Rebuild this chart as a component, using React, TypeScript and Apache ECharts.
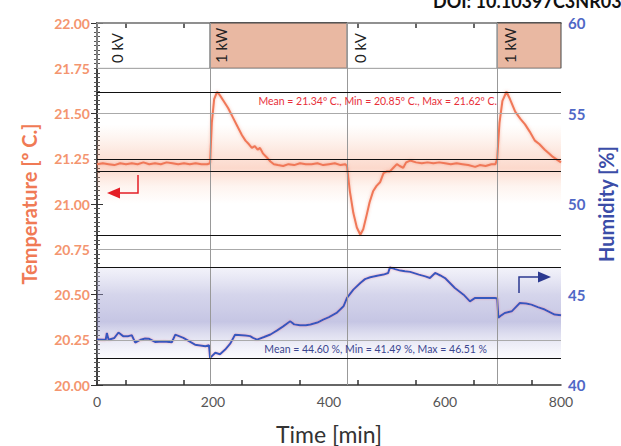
import React, { useEffect, useRef } from "react";
import * as echarts from "echarts";

// Temperature [ºC] vs time [min]
const tempTime = [0,10,20,30,40,50,60,70,80,90,100,110,120,130,140,150,160,170,180,190,195,198,202,207,212,218,226,234,242,250,256,262,267,272,277,281,286,292,299,305,312,321,330,340,350,360,370,380,390,400,410,420,428,431,436,442,448,454,459,465,470,476,482,488,494,500,505,511,517,522,528,533,540,550,560,570,580,590,600,610,620,630,640,652,660,670,680,687,690,694,699,706,712,721,730,738,746,755,763,772,779,786,793,800];
const tempValues = [21.22,21.225,21.22,21.215,21.225,21.22,21.225,21.22,21.23,21.22,21.225,21.22,21.23,21.225,21.22,21.225,21.22,21.225,21.22,21.22,21.225,21.45,21.58,21.62,21.6,21.57,21.53,21.48,21.43,21.38,21.35,21.33,21.31,21.32,21.3,21.31,21.28,21.26,21.235,21.22,21.215,21.21,21.22,21.215,21.225,21.22,21.22,21.225,21.215,21.22,21.225,21.215,21.22,21.21,21.07,20.95,20.87,20.83,20.86,20.94,21.01,21.07,21.1,21.12,21.17,21.18,21.18,21.2,21.22,21.21,21.2,21.23,21.24,21.23,21.225,21.23,21.225,21.23,21.225,21.22,21.225,21.22,21.215,21.205,21.215,21.21,21.22,21.22,21.25,21.45,21.57,21.62,21.58,21.51,21.47,21.44,21.4,21.35,21.33,21.3,21.28,21.26,21.245,21.23];

// Humidity [%] vs time [min]
const humTime = [0,15,17,20,30,37,45,54,60,66,75,83,90,100,115,129,135,149,160,169,187,193,195,204,212,221,230,238,256,264,269,276,288,299,310,321,333,340,350,360,368,380,390,400,413,425,431,442,454,462,471,485,494,502,505,514,523,531,540,555,566,574,583,592,600,617,632,643,652,669,686,690,692,697,703,715,729,740,749,760,772,789,800];
const humValues = [42.51,42.5,42.88,42.5,42.6,42.9,42.7,42.7,42.75,42.34,42.5,42.57,42.55,42.38,42.4,42.36,42.78,42.6,42.4,42.23,42.14,42.2,41.5,41.78,41.7,41.96,42.3,42.78,42.73,42.7,42.6,42.51,42.65,42.79,43.0,43.24,43.52,43.35,43.3,43.3,43.34,43.45,43.61,43.75,43.98,44.35,44.81,45.27,45.64,45.85,45.95,46.05,46.1,46.19,46.5,46.4,46.32,46.28,46.25,46.1,46.0,45.91,46.19,46.05,45.91,45.36,44.99,44.62,44.81,44.8,44.81,44.78,43.71,43.85,43.98,44.07,44.53,44.5,44.44,44.3,44.17,43.89,43.85];

const powerPeriods = [
  { start: 0, end: 195, label: "0 kV" },
  { start: 195, end: 431, label: "1 kW" },
  { start: 431, end: 690, label: "0 kV" },
  { start: 690, end: 800, label: "1 kW" },
];
const switchTimes = [195, 431, 690];
const tempGridValues = [21.75, 21.5, 21.25, 20.75, 20.25];
const tempBoxLines = [21.62, 21.253, 21.183, 20.83];
const humBoxLines = [46.51, 41.49];
const xTickLabels = [0, 200, 400, 600, 800];

const FONT = "Lato";

export default function App() {
  const ref = useRef<HTMLDivElement>(null);
  useEffect(() => {
    const chart = echarts.init(ref.current!, null, { renderer: "svg" });
    const xBase = {
      type: "value",
      min: 0,
      max: 800,
      interval: 100,
      axisLine: { show: true, lineStyle: { color: "#333", width: 1.5 } },
      axisTick: { show: false, inside: true },
      minorTick: { show: true, splitNumber: 2, length: 5, lineStyle: { color: "#333", width: 1.5 } },
      splitLine: { show: false },
    };
    const option: any = {
      animation: false,
      backgroundColor: "#fff",
      textStyle: { fontFamily: FONT },
      grid: { left: 97, right: 60, top: 23, bottom: 61, containLabel: false, outerBoundsMode: "none" },
      xAxis: [
        {
          ...xBase,
          position: "bottom",
          name: "Time [min]",
          nameLocation: "middle",
          nameGap: 37,
          nameTextStyle: { color: "#333", fontSize: 23, fontFamily: FONT },
          axisLabel: {
            color: "#555",
            fontSize: 14,
            margin: 9,
            formatter: (v: number) => (xTickLabels.includes(v) ? String(v) : ""),
          },
        },
        { ...xBase, position: "top", axisLabel: { show: false } },
      ],
      yAxis: [
        {
          type: "value",
          position: "left",
          min: 20,
          max: 22,
          interval: 0.25,
          name: "Temperature [º C.]",
          nameLocation: "middle",
          nameGap: 58,
          nameTextStyle: { color: "#F07A55", fontSize: 20, fontWeight: "bold", fontFamily: FONT },
          axisLine: { show: true, lineStyle: { color: "#333", width: 1.5 } },
          axisTick: { show: true, inside: true, length: 6, lineStyle: { color: "#333" } },
          minorTick: { show: true, splitNumber: 10, length: 3, lineStyle: { color: "#555" } },
          splitLine: { show: false },
          axisLabel: {
            color: "#F4956F",
            fontSize: 14,
            fontWeight: "bold",
            margin: 7,
            formatter: (v: number) => v.toFixed(2),
          },
        },
        {
          type: "value",
          position: "right",
          min: 40,
          max: 60,
          interval: 5,
          name: "Humidity [%]",
          nameLocation: "middle",
          nameGap: 34,
          nameTextStyle: { color: "#3B4DA8", fontSize: 20, fontWeight: "bold", fontFamily: FONT },
          axisLine: { show: true, lineStyle: { color: "#333", width: 1.5 } },
          axisTick: { show: true, inside: true, length: 6, lineStyle: { color: "#333" } },
          minorTick: { show: true, splitNumber: 20, length: 3, lineStyle: { color: "#555" } },
          splitLine: { show: false },
          axisLabel: { color: "#5068C6", fontSize: 15, fontWeight: "bold", margin: 7 },
        },
      ],
      series: [
        {
          name: "band",
          type: "line",
          xAxisIndex: 0,
          yAxisIndex: 0,
          data: [],
          silent: true,
          markArea: {
            silent: true,
            data: [
              [
                {
                  xAxis: 0,
                  yAxis: 21.44,
                  itemStyle: {
                    color: new echarts.graphic.LinearGradient(0, 0, 0, 1, [
                      { offset: 0, color: "rgba(248,170,130,0)" },
                      { offset: 0.35, color: "rgba(245,145,105,0.22)" },
                      { offset: 0.55, color: "rgba(245,135,95,0.32)" },
                      { offset: 0.78, color: "rgba(248,165,125,0.12)" },
                      { offset: 1, color: "rgba(248,170,130,0)" },
                    ]),
                  },
                },
                { xAxis: 800, yAxis: 21.0 },
              ],
              ...powerPeriods.map((p) => [
                {
                  xAxis: p.start,
                  yAxis: 21.75,
                  itemStyle: p.label === "1 kW"
                    ? { color: "#E9B8A2", borderColor: "#444", borderWidth: 1 }
                    : { color: "rgba(255,255,255,0)", borderColor: "#bbb", borderWidth: 1 },
                },
                { xAxis: p.end, yAxis: 22 },
              ]),
            ],
          },
          markLine: {
            silent: true,
            symbol: "none",
            label: { show: false },
            data: [
              ...tempGridValues.map((v) => ({ yAxis: v, lineStyle: { color: "#aaa", width: 1, type: "solid" } })),
              ...switchTimes.map((v) => ({ xAxis: v, lineStyle: { color: "#999", width: 1, type: "solid" } })),
            ],
          },
        },
        {
          name: "humband",
          type: "line",
          xAxisIndex: 0,
          yAxisIndex: 1,
          data: [],
          silent: true,
          markArea: {
            silent: true,
            data: [
              [
                {
                  xAxis: 0,
                  yAxis: humBoxLines[0],
                  itemStyle: {
                    color: new echarts.graphic.LinearGradient(0, 0, 0, 1, [
                      { offset: 0, color: "rgba(220,220,240,0.35)" },
                      { offset: 0.3, color: "rgba(155,155,208,0.42)" },
                      { offset: 0.6, color: "rgba(135,135,198,0.48)" },
                      { offset: 0.85, color: "rgba(195,195,228,0.3)" },
                      { offset: 1, color: "rgba(232,232,246,0.2)" },
                    ]),
                  },
                },
                { xAxis: 800, yAxis: humBoxLines[1] },
              ],
            ],
          },
          markLine: {
            silent: true,
            symbol: "none",
            label: { show: false },
            data: humBoxLines.map((v) => ({ yAxis: v, lineStyle: { color: "#111", width: 1.2, type: "solid" } })),
          },
        },
        {
          name: "Temperature",
          type: "line",
          xAxisIndex: 0,
          yAxisIndex: 0,
          data: tempTime.map((t, i) => [t, tempValues[i]]),
          showSymbol: false,
          lineStyle: { color: "#F07858", width: 2, shadowColor: "rgba(240,120,90,0.5)", shadowBlur: 3 },
          markLine: {
            silent: true,
            symbol: "none",
            label: { show: false },
            data: tempBoxLines.map((v) => ({ yAxis: v, lineStyle: { color: "#111", width: 1.2, type: "solid" } })),
          },
          z: 3,
        },
        {
          name: "Humidity",
          type: "line",
          xAxisIndex: 0,
          yAxisIndex: 1,
          data: humTime.map((t, i) => [t, humValues[i]]),
          showSymbol: false,
          lineStyle: { color: "#3558BE", width: 2, shadowColor: "rgba(230,120,140,0.55)", shadowBlur: 2 },
          z: 3,
        },
      ],
      graphic: [
        {
          type: "text",
          x: 433,
          y: 10,
          style: {
            text: "DOI: 10.10397C3NR03",
            font: `bold 18px ${FONT}`,
            fill: "#111",
            align: "left",
            verticalAlign: "bottom",
          },
        },
        ...[117, 221, 360, 510].map((x, i) => ({
          type: "text",
          x,
          y: 63,
          rotation: Math.PI / 2,
          style: {
            text: powerPeriods[i].label,
            font: `15px ${FONT}`,
            fill: "#222",
            align: "left",
            verticalAlign: "middle",
          },
          z: 10,
        })),
        {
          type: "text",
          x: 497,
          y: 101,
          style: {
            text: "Mean = 21.34º C., Min = 20.85º C., Max = 21.62º C.",
            font: `10.5px ${FONT}`,
            fill: "#E8303A",
            align: "right",
            verticalAlign: "middle",
          },
          z: 10,
        },
        {
          type: "text",
          x: 487,
          y: 349,
          style: {
            text: "Mean = 44.60 %, Min = 41.49 %, Max = 46.51 %",
            font: `10.5px ${FONT}`,
            fill: "#3A4590",
            align: "right",
            verticalAlign: "middle",
          },
          z: 10,
        },
        {
          type: "polyline",
          shape: { points: [[138, 175], [138, 193], [118, 193]] },
          style: { stroke: "#E41E26", lineWidth: 1.5, fill: null },
          z: 10,
        },
        {
          type: "polygon",
          shape: { points: [[107, 193], [120, 187.5], [120, 198.5]] },
          style: { fill: "#E41E26" },
          z: 10,
        },
        {
          type: "polyline",
          shape: { points: [[519, 293], [519, 277], [540, 277]] },
          style: { stroke: "#2B3990", lineWidth: 1.5, fill: null },
          z: 10,
        },
        {
          type: "polygon",
          shape: { points: [[551, 277], [538, 271.5], [538, 282.5]] },
          style: { fill: "#2B3990" },
          z: 10,
        },
      ],
    };
    chart.setOption(option);
    return () => chart.dispose();
  }, []);
  return <div ref={ref} style={{ width: 621, height: 446, position: "absolute", left: 0, top: 0 }} />;
}
